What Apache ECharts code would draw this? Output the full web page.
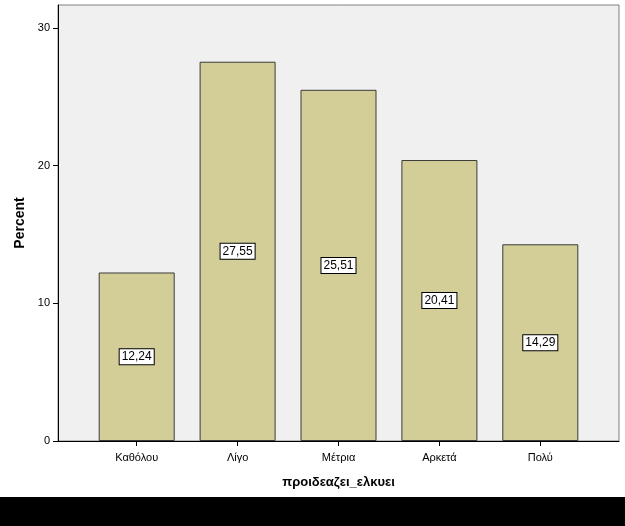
<!DOCTYPE html>
<html>
<head>
<meta charset="utf-8">
<script src="https://cdn.jsdelivr.net/npm/echarts@6/dist/echarts.min.js"></script>
<style>
html,body{margin:0;padding:0;background:#000;}
#c{width:625px;height:497px;background:#fff;}
</style>
</head>
<body>
<div id="c"></div>
<script>
const categories = ['Καθόλου', 'Λίγο', 'Μέτρια', 'Αρκετά', 'Πολύ'];
const percents = [12.24, 27.55, 25.51, 20.41, 14.29];
const yTicks = [0, 10, 20, 30];
const xTitle = 'προιδεαζει_ελκυει';
const yTitle = 'Percent';

const chart = echarts.init(document.getElementById('c'));
const idx = categories.map((_, i) => i);
chart.setOption({
  animation: false,
  backgroundColor: '#fff',
  grid: {
    left: 58, top: 5, right: 6, bottom: 56,
    show: true, backgroundColor: '#f0f0f0', borderColor: '#808080', borderWidth: 1
  },
  xAxis: {
    type: 'value',
    min: -0.78, max: 4.78,
    name: xTitle, nameLocation: 'middle', nameGap: 35,
    nameTextStyle: { fontFamily: 'Liberation Sans, Arial', fontWeight: 'bold', fontSize: 13, color: '#000' },
    splitLine: { show: false },
    axisLine: { show: true, onZero: false, lineStyle: { color: '#000', width: 1 } },
    axisTick: { show: true, length: 5, lineStyle: { color: '#000' }, customValues: idx },
    axisLabel: {
      customValues: idx, margin: 11,
      fontFamily: 'Liberation Sans, Arial', fontSize: 11, color: '#000',
      formatter: v => categories[Math.round(v)] || ''
    }
  },
  yAxis: {
    type: 'value',
    min: 0, max: 31.67,
    name: yTitle, nameLocation: 'middle', nameGap: 28,
    nameTextStyle: { fontFamily: 'Liberation Sans, Arial', fontWeight: 'bold', fontSize: 14, color: '#000' },
    splitLine: { show: false },
    axisLine: { show: true, onZero: false, lineStyle: { color: '#000', width: 1 } },
    axisTick: { show: true, length: 5, lineStyle: { color: '#000' }, customValues: yTicks },
    axisLabel: {
      customValues: yTicks, margin: 8,
      fontFamily: 'Liberation Sans, Arial', fontSize: 11, color: '#000'
    }
  },
  series: [{
    type: 'bar',
    data: percents.map((v, i) => [i, v]),
    barWidth: 76,
    itemStyle: { color: '#d3ce97', borderColor: '#3a3a3a', borderWidth: 1 },
    label: {
      show: true, position: 'inside',
      formatter: p => p.value[1].toFixed(2).replace('.', ','),
      fontFamily: 'Liberation Sans, Arial', fontSize: 12, color: '#000',
      backgroundColor: '#fff', borderColor: '#000', borderWidth: 1,
      padding: [2, 2, 1, 2]
    }
  }]
});
</script>
</body>
</html>
